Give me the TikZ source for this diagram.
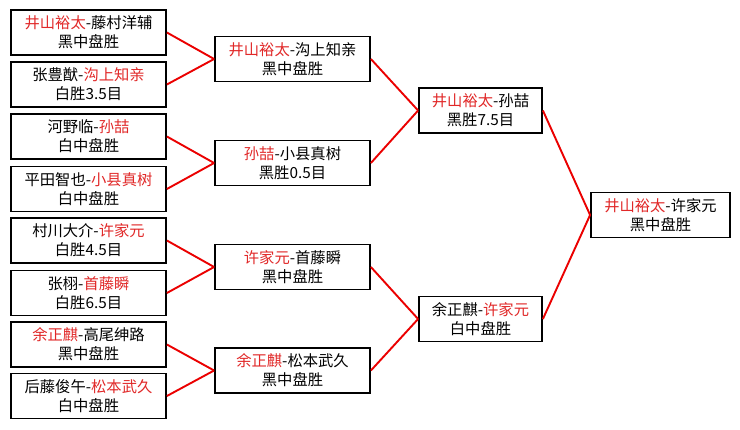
\documentclass[tikz,border=0pt]{standalone}
\usepackage{fontspec}
\setmainfont{Noto Sans CJK SC}
\definecolor{tred}{RGB}{225,40,40}
\definecolor{lred}{RGB}{235,0,0}
\newcommand\R[1]{\textcolor{tred}{#1}}
\begin{document}
\begin{tikzpicture}[x=1pt,y=-1pt,
  game/.style={draw=black,line width=1.8pt,fill=white,inner sep=0pt,align=center,
    minimum height=45pt,font=\fontsize{15.3}{19}\selectfont},
  gA/.style={game,minimum width=155pt},
  gC/.style={game,minimum width=123pt},
  gF/.style={game,minimum width=139pt},
  link/.style={draw=lred,line width=1.9pt}]
\useasboundingbox[fill=white] (0,0) rectangle (740,429);
% round 1
\node[gA] (a1) at (88.5,32.5) {\R{井山裕太}-藤村洋辅\\黑中盘胜};
\node[gA] (a2) at (88.5,84.5) {张豊猷-\R{沟上知亲}\\白胜3.5目};
\node[gA] (a3) at (88.5,136.5) {河野临-\R{孙喆}\\白中盘胜};
\node[gA] (a4) at (88.5,189) {平田智也-\R{小县真树}\\白中盘胜};
\node[gA] (a5) at (88.5,240.5) {村川大介-\R{许家元}\\白胜4.5目};
\node[gA] (a6) at (88.5,293) {张栩-\R{首藤瞬}\\白胜6.5目};
\node[gA] (a7) at (88.5,344.5) {\R{余正麒}-高尾绅路\\黑中盘胜};
\node[gA] (a8) at (88.5,396) {后藤俊午-\R{松本武久}\\白中盘胜};
% round 2
\node[gA] (b1) at (292.5,59) {\R{井山裕太}-沟上知亲\\黑中盘胜};
\node[gA] (b2) at (292.5,163) {\R{孙喆}-小县真树\\黑胜0.5目};
\node[gA] (b3) at (292.5,267) {\R{许家元}-首藤瞬\\黑中盘胜};
\node[gA] (b4) at (292.5,370.5) {\R{余正麒}-松本武久\\黑中盘胜};
% semifinals
\node[gC] (c1) at (480.5,110.5) {\R{井山裕太}-孙喆\\黑胜7.5目};
\node[gC] (c2) at (480.5,319) {余正麒-\R{许家元}\\白中盘胜};
% final
\node[gF] (f) at (660.5,215) {\R{井山裕太}-许家元\\黑中盘胜};
% connectors
\begin{scope}[on background layer/.try]
\draw[link] (a1.east) -- (b1.west);
\draw[link] (a2.east) -- (b1.west);
\draw[link] (a3.east) -- (b2.west);
\draw[link] (a4.east) -- (b2.west);
\draw[link] (a5.east) -- (b3.west);
\draw[link] (a6.east) -- (b3.west);
\draw[link] (a7.east) -- (b4.west);
\draw[link] (a8.east) -- (b4.west);
\draw[link] (b1.east) -- (c1.west);
\draw[link] (b2.east) -- (c1.west);
\draw[link] (b3.east) -- (c2.west);
\draw[link] (b4.east) -- (c2.west);
\draw[link] (c1.east) -- (f.west);
\draw[link] (c2.east) -- (f.west);
\end{scope}
\end{tikzpicture}
\end{document}
